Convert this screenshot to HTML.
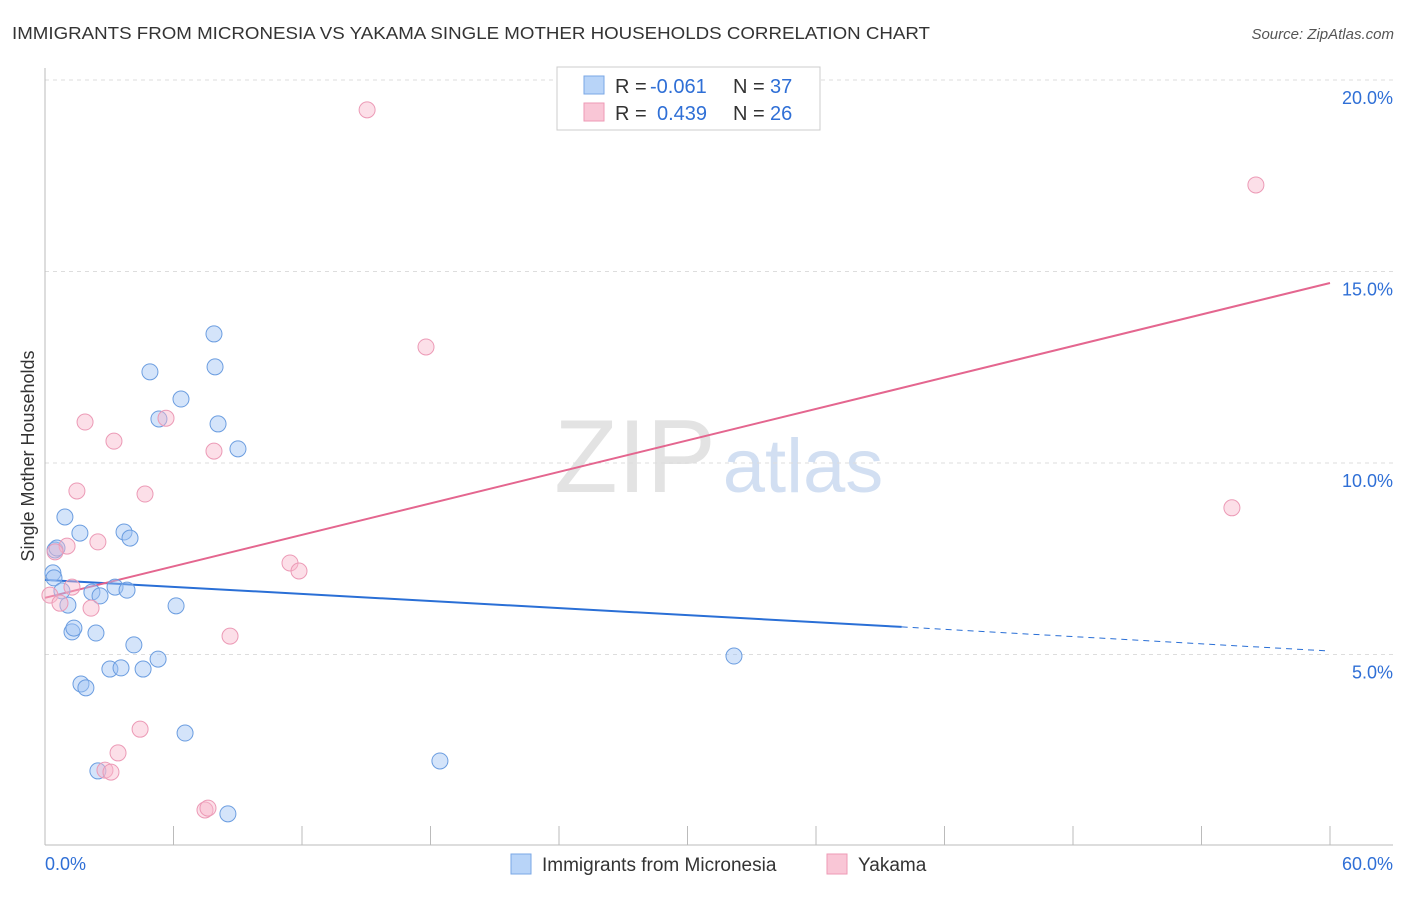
<!DOCTYPE html>
<html><head><meta charset="utf-8"><style>
body{margin:0;background:#fff;font-family:"Liberation Sans",sans-serif}
svg text{font-family:"Liberation Sans",sans-serif}
</style></head><body>
<svg id="chart" width="1406" height="892">
<text x="12" y="39" font-size="17.5" fill="#333" textLength="918" lengthAdjust="spacingAndGlyphs">IMMIGRANTS FROM MICRONESIA VS YAKAMA SINGLE MOTHER HOUSEHOLDS CORRELATION CHART</text>
<text x="1394" y="39" font-size="15" fill="#555" font-style="italic" text-anchor="end">Source: ZipAtlas.com</text>
<text x="0" y="0" transform="translate(34,456) rotate(-90)" font-size="18" fill="#333" text-anchor="middle">Single Mother Households</text>
<g>
<text x="635" y="492" font-size="104" font-family="Liberation Serif" fill="#ddd" text-anchor="middle" opacity="0.8">ZIP</text>
<text x="803" y="492" font-size="76" fill="#c8d8ef" text-anchor="middle" opacity="0.8">atlas</text>
</g>
<g id="grid"></g><g id="axes"></g><g id="lines"></g><g id="points"></g>
<g>
<rect x="557" y="67" width="263" height="63" fill="#fff" stroke="#ccc"/>
<rect x="584" y="76" width="20" height="18" fill="#b8d4f8" stroke="#7aa7e6"/>
<rect x="584" y="103" width="20" height="18" fill="#f9c6d6" stroke="#ee9ab5"/>
<text x="615" y="93" font-size="20" fill="#333">R =</text>
<text x="650" y="93" font-size="20" fill="#2f6fd6">-0.061</text>
<text x="733" y="93" font-size="20" fill="#333">N =</text>
<text x="770" y="93" font-size="20" fill="#2f6fd6">37</text>
<text x="615" y="120" font-size="20" fill="#333">R =</text>
<text x="657" y="120" font-size="20" fill="#2f6fd6">0.439</text>
<text x="733" y="120" font-size="20" fill="#333">N =</text>
<text x="770" y="120" font-size="20" fill="#2f6fd6">26</text>
</g>
<g>
<rect x="511" y="854" width="20" height="20" fill="#b8d4f8" stroke="#7aa7e6"/>
<text x="542" y="871" font-size="19" fill="#333">Immigrants from Micronesia</text>
<rect x="827" y="854" width="20" height="20" fill="#f9c6d6" stroke="#ee9ab5"/>
<text x="858" y="871" font-size="19" fill="#333">Yakama</text>
</g>
<text x="45" y="870" font-size="18" fill="#2f6fd6">0.0%</text>
<text x="1393" y="870" font-size="18" fill="#2f6fd6" text-anchor="end">60.0%</text>
</svg>
<script>
const blueX=[.47,.56,.37,.42,.93,1.63,.79,1.07,1.26,1.35,2.38,2.19,2.57,3.27,3.83,3.69,3.97,4.90,5.32,6.35,7.89,7.94,8.08,9.01,6.12,4.15,5.28,3.03,3.55,4.58,1.68,1.91,6.54,2.47,8.54,18.44,32.17];
const blueY=[7.73,7.78,7.13,7.00,8.59,8.17,6.66,6.29,5.59,5.69,5.56,6.63,6.53,6.76,6.68,8.20,8.04,12.38,11.15,11.67,13.37,12.51,11.02,10.37,6.27,5.25,4.88,4.62,4.65,4.62,4.23,4.13,2.95,1.96,0.84,2.22,4.96];
const pinkX=[15.04,56.54,17.79,1.87,5.65,3.22,7.89,1.49,4.67,2.47,1.03,.47,11.44,11.86,1.26,.23,.70,2.15,8.64,4.44,3.41,2.80,3.08,7.47,7.61,55.42];
const pinkY=[19.22,17.26,13.03,11.07,11.17,10.57,10.31,9.27,9.19,7.94,7.83,7.68,7.39,7.18,6.76,6.55,6.34,6.21,5.48,3.05,2.43,1.98,1.93,0.94,0.99,8.83];
const yTicks=[5,10,15,20];
const yTickLabels=["5.0%","10.0%","15.0%","20.0%"];
const xTicks=[0,6,12,18,24,30,36,42,48,54,60];
const blueTrend=[6.95,5.72,5.09];
const pinkTrend=[6.48,14.70];
const NS="http://www.w3.org/2000/svg";
const sx=v=>45+v/60*1285, sy=v=>846-v*38.3;
function mk(t,a,p){const e=document.createElementNS(NS,t);for(const k in a)e.setAttribute(k,a[k]);document.getElementById(p).appendChild(e);return e;}
yTicks.forEach((t,i)=>{
 const g=mk('line',{x1:45,x2:1393,y1:sy(t),y2:sy(t),stroke:'#ddd','stroke-dasharray':'4,4'},'grid');
 
 
 const l=mk('text',{x:1393,y:sy(t)+24,'font-size':18,fill:'#2f6fd6','text-anchor':'end'},'grid');
 l.textContent=yTickLabels[i];
 
 
});
const ax=mk('line',{x1:45,x2:1393,y1:845,y2:845,stroke:'#bbb'},'axes');


const ay=mk('line',{x1:45,x2:45,y1:68,y2:845,stroke:'#bbb'},'axes');


xTicks.forEach(t=>{const e=mk('line',{x1:sx(t),x2:sx(t),y1:826,y2:845,stroke:'#bbb'},'axes');
 
 });
let e=mk('line',{x1:sx(0),y1:sy(blueTrend[0]),x2:sx(40),y2:sy(blueTrend[1]),stroke:'#2a6fd6','stroke-width':2},'lines');


e=mk('line',{x1:sx(40),y1:sy(blueTrend[1]),x2:sx(60),y2:sy(blueTrend[2]),stroke:'#2a6fd6','stroke-width':1,'stroke-dasharray':'6,5'},'lines');


e=mk('line',{x1:sx(0),y1:sy(pinkTrend[0]),x2:sx(60),y2:sy(pinkTrend[1]),stroke:'#e4668f','stroke-width':2},'lines');


blueX.forEach((x,i)=>{const c=mk('circle',{cx:sx(x),cy:sy(blueY[i]),r:8,fill:'rgba(160,196,245,0.45)',stroke:'#6b9de0','stroke-width':1},'points');
 
 });
pinkX.forEach((x,i)=>{const c=mk('circle',{cx:sx(x),cy:sy(pinkY[i]),r:8,fill:'rgba(248,185,205,0.45)',stroke:'#ec9ab6','stroke-width':1},'points');
 
 });
</script>
</body></html>
